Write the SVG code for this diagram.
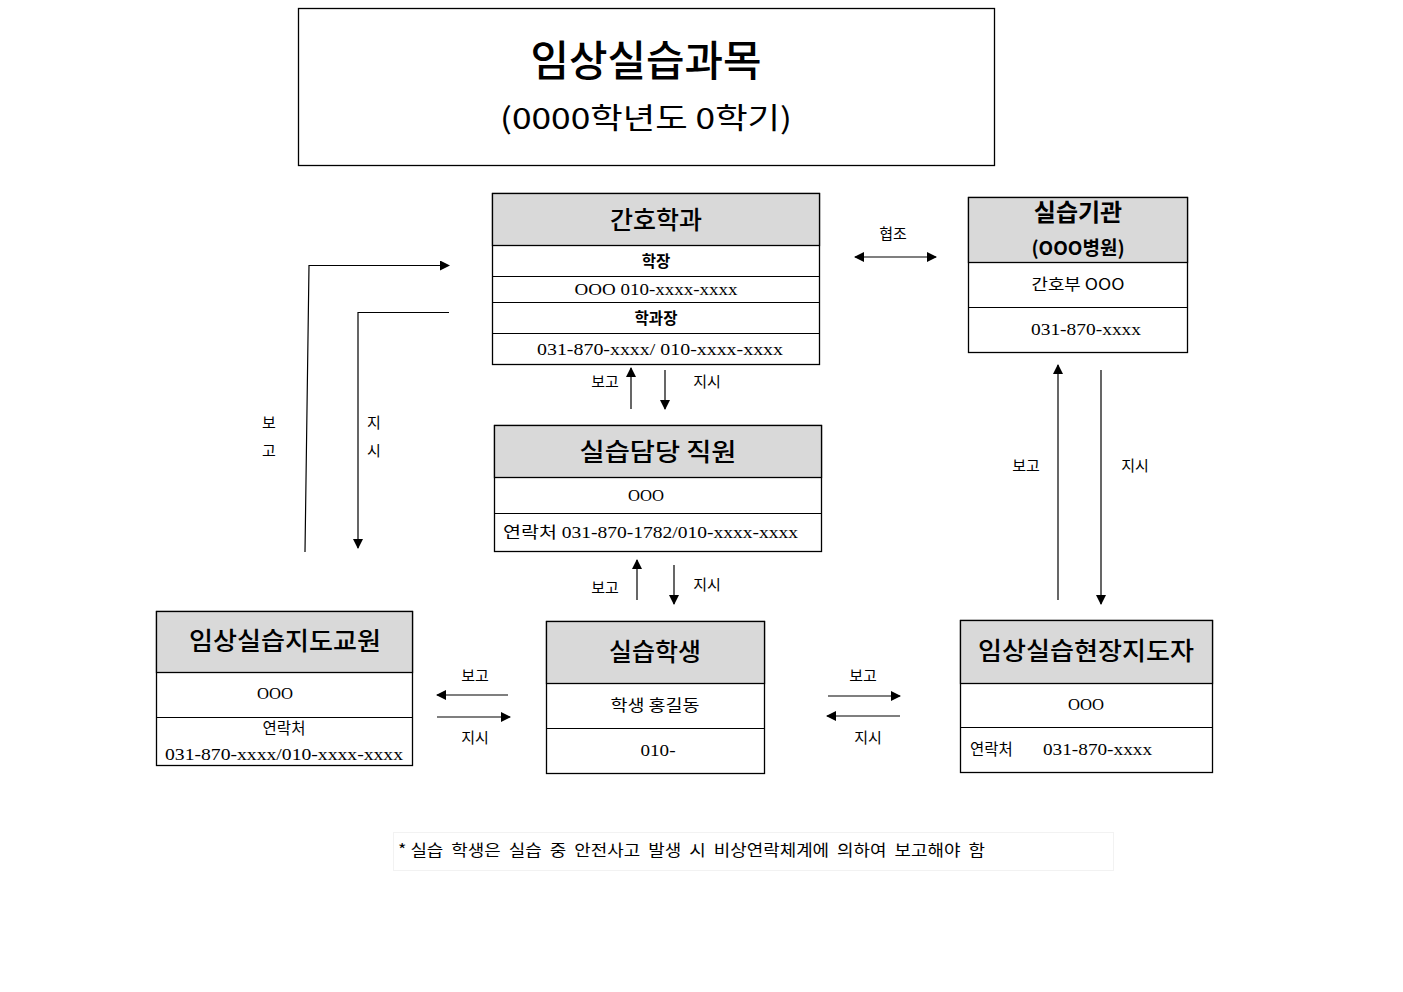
<svg xmlns="http://www.w3.org/2000/svg" width="1403" height="992" viewBox="0 0 1403 992">
<style>
text{font-family:"Liberation Serif","Noto Sans CJK KR",serif;fill:#000}
.k{font-family:"Noto Sans CJK KR","Liberation Sans",sans-serif}
.box{fill:#fff;stroke:#000;stroke-width:1.3}
.hd{fill:#d9d9d9;stroke:#000;stroke-width:1.3}
.ln{stroke:#000;stroke-width:1.2;fill:none}
.h{font-family:"Noto Sans CJK KR",sans-serif;font-size:25px;font-weight:500}
.r{font-size:16px}
.rk{font-family:"Noto Sans CJK KR",sans-serif;font-size:15.5px}
.lb{font-family:"Noto Sans CJK KR",sans-serif;font-size:15px}
.c{text-anchor:middle}
</style>
<defs>
<marker id="ah" viewBox="0 0 10 10" refX="9" refY="5" markerWidth="10" markerHeight="10" markerUnits="userSpaceOnUse" orient="auto-start-reverse">
<path d="M0,0 L10,5 L0,10 z" fill="#000"/>
</marker>
</defs>
<rect width="1403" height="992" fill="#fff"/>

<g id="title">
<rect x="298.5" y="8.5" width="696" height="157" class="box"/>
<text x="646" y="76" class="k c" font-size="42" font-weight="500" textLength="231" lengthAdjust="spacingAndGlyphs">임상실습과목</text>
<text x="646" y="129" class="k c" font-size="29" textLength="292" lengthAdjust="spacingAndGlyphs">(0000학년도 0학기)</text>
</g>

<g id="nursing">
<rect x="492.5" y="193.5" width="327" height="171" class="box"/>
<rect x="492.5" y="193.5" width="327" height="52" class="hd"/>
<line x1="492.5" y1="276.5" x2="819.5" y2="276.5" class="ln"/>
<line x1="492.5" y1="302.5" x2="819.5" y2="302.5" class="ln"/>
<line x1="492.5" y1="333.5" x2="819.5" y2="333.5" class="ln"/>
<text x="656" y="229" class="h c">간호학과</text>
<text x="656" y="267" class="rk c" font-weight="bold">학장</text>
<text x="656" y="295" class="r c" textLength="163" lengthAdjust="spacingAndGlyphs">OOO  010-xxxx-xxxx</text>
<text x="656" y="324" class="rk c" font-weight="bold">학과장</text>
<text x="660" y="355" class="r c" textLength="246" lengthAdjust="spacingAndGlyphs">031-870-xxxx/ 010-xxxx-xxxx</text>
</g>

<g id="institution">
<rect x="968.5" y="197.5" width="219" height="155" class="box"/>
<rect x="968.5" y="197.5" width="219" height="65" class="hd"/>
<line x1="968.5" y1="307.5" x2="1187.5" y2="307.5" class="ln"/>
<text x="1078" y="221" class="k c" font-size="24" font-weight="bold">실습기관</text>
<text x="1078" y="255" class="k c" font-size="19" font-weight="bold">(OOO병원)</text>
<text x="1078" y="290" class="rk c" textLength="93" lengthAdjust="spacingAndGlyphs">간호부  OOO</text>
<text x="1086" y="335" class="r c" textLength="110" lengthAdjust="spacingAndGlyphs">031-870-xxxx</text>
</g>

<g id="staff">
<rect x="494.5" y="425.5" width="327" height="126" class="box"/>
<rect x="494.5" y="425.5" width="327" height="52" class="hd"/>
<line x1="494.5" y1="513.5" x2="821.5" y2="513.5" class="ln"/>
<text x="658" y="461" class="h c" textLength="157" lengthAdjust="spacingAndGlyphs">실습담당  직원</text>
<text x="646" y="501" class="r c" textLength="36" lengthAdjust="spacingAndGlyphs">OOO</text>
<text x="503" y="538" class="r" textLength="295" lengthAdjust="spacingAndGlyphs">연락처  031-870-1782/010-xxxx-xxxx</text>
</g>

<g id="instructor">
<rect x="156.5" y="611.5" width="256" height="154" class="box"/>
<rect x="156.5" y="611.5" width="256" height="61" class="hd"/>
<line x1="156.5" y1="717.5" x2="412.5" y2="717.5" class="ln"/>
<text x="285" y="650" class="h c" textLength="192" lengthAdjust="spacingAndGlyphs">임상실습지도교원</text>
<text x="275" y="699" class="r c" textLength="36" lengthAdjust="spacingAndGlyphs">OOO</text>
<text x="284" y="734" class="rk c">연락처</text>
<text x="284" y="760" class="r c" textLength="238" lengthAdjust="spacingAndGlyphs">031-870-xxxx/010-xxxx-xxxx</text>
</g>

<g id="student">
<rect x="546.5" y="621.5" width="218" height="152" class="box"/>
<rect x="546.5" y="621.5" width="218" height="62" class="hd"/>
<line x1="546.5" y1="728.5" x2="764.5" y2="728.5" class="ln"/>
<text x="655" y="661" class="h c">실습학생</text>
<text x="655" y="711" class="rk c" textLength="89" lengthAdjust="spacingAndGlyphs">학생  홍길동</text>
<text x="658" y="756" class="r c" textLength="35" lengthAdjust="spacingAndGlyphs">010-</text>
</g>

<g id="preceptor">
<rect x="960.5" y="620.5" width="252" height="152" class="box"/>
<rect x="960.5" y="620.5" width="252" height="63" class="hd"/>
<line x1="960.5" y1="727.5" x2="1212.5" y2="727.5" class="ln"/>
<text x="1086" y="660" class="h c" textLength="216" lengthAdjust="spacingAndGlyphs">임상실습현장지도자</text>
<text x="1086" y="710" class="r c" textLength="36" lengthAdjust="spacingAndGlyphs">OOO</text>
<text x="970" y="755" class="rk">연락처</text>
<text x="1043" y="755" class="r" textLength="109" lengthAdjust="spacingAndGlyphs">031-870-xxxx</text>
</g>

<g id="connectors">
<line x1="855" y1="257" x2="936" y2="257" class="ln" marker-start="url(#ah)" marker-end="url(#ah)"/>
<line x1="631" y1="409" x2="631" y2="368" class="ln" marker-end="url(#ah)"/>
<line x1="665" y1="370" x2="665" y2="409" class="ln" marker-end="url(#ah)"/>
<line x1="637" y1="600" x2="637" y2="560" class="ln" marker-end="url(#ah)"/>
<line x1="674" y1="565" x2="674" y2="604" class="ln" marker-end="url(#ah)"/>
<line x1="508" y1="695" x2="437" y2="695" class="ln" marker-end="url(#ah)"/>
<line x1="437" y1="717" x2="510" y2="717" class="ln" marker-end="url(#ah)"/>
<line x1="828" y1="696" x2="900" y2="696" class="ln" marker-end="url(#ah)"/>
<line x1="900" y1="716" x2="827" y2="716" class="ln" marker-end="url(#ah)"/>
<line x1="1058" y1="600" x2="1058" y2="365" class="ln" marker-end="url(#ah)"/>
<line x1="1101" y1="370" x2="1101" y2="604" class="ln" marker-end="url(#ah)"/>
<polyline points="305,552 309,265.5 449,265.5" class="ln" marker-end="url(#ah)"/>
<polyline points="449,312.5 358,312.5 358,548" class="ln" marker-end="url(#ah)"/>
</g>

<g id="labels">
<text x="893" y="239" class="lb c">협조</text>
<text x="605" y="387" class="lb c">보고</text>
<text x="707" y="387" class="lb c">지시</text>
<text x="605" y="593" class="lb c">보고</text>
<text x="707" y="590" class="lb c">지시</text>
<text x="475" y="681" class="lb c">보고</text>
<text x="475" y="743" class="lb c">지시</text>
<text x="863" y="681" class="lb c">보고</text>
<text x="868" y="743" class="lb c">지시</text>
<text x="1026" y="471" class="lb c">보고</text>
<text x="1135" y="471" class="lb c">지시</text>
<text x="269" y="428" class="lb c">보</text>
<text x="269" y="456" class="lb c">고</text>
<text x="374" y="428" class="lb c">지</text>
<text x="374" y="456" class="lb c">시</text>
</g>

<g id="footnote">
<rect x="393.5" y="832.5" width="720" height="38" fill="none" stroke="#f2f2f2"/>
<text x="398" y="856" class="k" font-size="16" xml:space="preserve" textLength="587" lengthAdjust="spacingAndGlyphs">* 실습  학생은  실습  중  안전사고  발생  시  비상연락체계에  의하여  보고해야  함</text>
</g>
</svg>
